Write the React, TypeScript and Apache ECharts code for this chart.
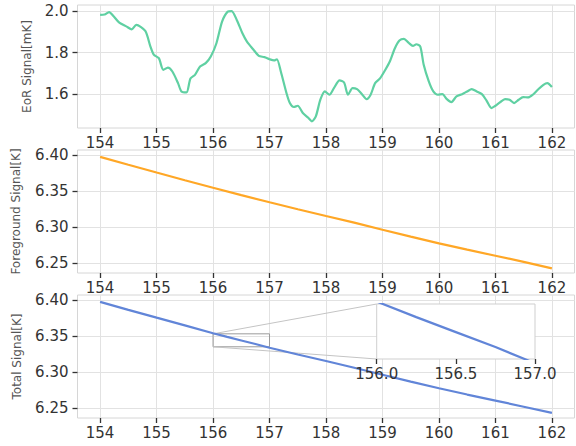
import React, { useEffect, useRef } from "react";
import * as echarts from "echarts";

// ---- data ----
const freqTicks = [154, 155, 156, 157, 158, 159, 160, 161, 162];
const eorTicks = [1.6, 1.8, 2.0];
const kTicks = [6.25, 6.3, 6.35, 6.4];
const insetTicks = [156, 156.5, 157];

const eorFreq = [
  154.0, 154.08, 154.16, 154.24, 154.34, 154.47, 154.56, 154.64, 154.8, 154.89, 154.95,
  155.04, 155.12, 155.2, 155.28, 155.38, 155.44, 155.53, 155.6, 155.68, 155.77, 155.87,
  155.96, 156.06, 156.16, 156.26, 156.33, 156.42, 156.52, 156.6, 156.71, 156.81, 156.91,
  157.0, 157.08, 157.13, 157.2, 157.3, 157.36, 157.43, 157.5, 157.59, 157.69, 157.75,
  157.82, 157.9, 157.98, 158.06, 158.14, 158.24, 158.32, 158.39, 158.47, 158.55, 158.63,
  158.72, 158.79, 158.87, 158.96, 159.05, 159.13, 159.22, 159.3, 159.38, 159.46, 159.54,
  159.6, 159.67, 159.73, 159.82, 159.9, 159.98, 160.06, 160.14, 160.22, 160.31, 160.41,
  160.5, 160.58, 160.67, 160.76, 160.84, 160.93, 161.0, 161.08, 161.17, 161.25, 161.33,
  161.41, 161.49, 161.58, 161.66, 161.75, 161.85, 161.92, 162.0,
];
const eorValues = [
  1.981, 1.983, 1.995, 1.975, 1.944, 1.925, 1.912, 1.933, 1.904, 1.83, 1.79,
  1.773, 1.717, 1.728, 1.709, 1.653, 1.613, 1.608, 1.675, 1.693, 1.733, 1.749,
  1.781, 1.845, 1.949, 1.997, 2.0, 1.957, 1.893, 1.853, 1.816, 1.784, 1.778,
  1.768, 1.762, 1.768, 1.709, 1.605, 1.557, 1.538, 1.544, 1.509, 1.485, 1.469,
  1.493, 1.573, 1.613, 1.597, 1.629, 1.666, 1.656, 1.597, 1.629, 1.624, 1.602,
  1.576, 1.597, 1.653, 1.677, 1.717, 1.757, 1.821, 1.858, 1.866, 1.848, 1.832,
  1.84, 1.829, 1.741, 1.661, 1.613, 1.597, 1.6, 1.576, 1.562, 1.589, 1.6,
  1.613, 1.624, 1.613, 1.6, 1.57, 1.533, 1.544, 1.56, 1.576, 1.573, 1.557,
  1.573, 1.586, 1.584, 1.597, 1.621, 1.645, 1.653, 1.634,
];

const fgFreq = [154, 154.5, 155, 155.5, 156, 156.5, 157, 157.5, 158, 158.5, 159, 159.5, 160, 160.5, 161, 161.5, 162];
const fgValues = [
  6.3975, 6.3865, 6.3757, 6.365, 6.3545, 6.3443, 6.3343, 6.3247, 6.3153, 6.306, 6.2962,
  6.2865, 6.2772, 6.2685, 6.26, 6.2515, 6.2425,
];

const totFreq = [154, 154.5, 155, 155.5, 156, 156.25, 156.5, 156.75, 157, 157.5, 158, 158.5, 159, 159.5, 160, 160.5, 161, 161.5, 162];
const totValues = [
  6.3975, 6.3863, 6.3755, 6.3648, 6.3538, 6.3487, 6.3438, 6.3389, 6.3336, 6.3243, 6.3153,
  6.3058, 6.2962, 6.2866, 6.2773, 6.2686, 6.2602, 6.2517, 6.2432,
];

const insetX: [number, number] = [156, 157];
const insetY: [number, number] = [6.335, 6.353];

const FONT = "DejaVu Sans";
const GRID_LEFT = 77.5;
const GRID_W = 497;

function zip(xs: number[], ys: number[]) {
  return xs.map((x, i) => [x, ys[i]]);
}

export default function App() {
  const ref = useRef<HTMLDivElement>(null);
  useEffect(() => {
    if (!ref.current) return;
    const chart = echarts.init(ref.current, undefined, { renderer: "svg" });

    const mkX = (gridIndex: number) => ({
      type: "value",
      gridIndex,
      min: 153.6,
      max: 162.4,
      axisLine: { show: false },
      axisTick: { show: true, length: 5, lineStyle: { color: "#333", width: 1.3 }, customValues: freqTicks },
      axisLabel: { customValues: freqTicks, fontFamily: FONT, fontSize: 15, color: "#333", margin: 7 },
      splitLine: { show: true, lineStyle: { color: "#e2e2e2", width: 1 } },
    });
    const mkY = (gridIndex: number, min: number, max: number, ticks: number[], name: string, gap: number, digits: number) => ({
      type: "value",
      gridIndex,
      min,
      max,
      name,
      nameLocation: "middle",
      nameGap: gap,
      nameTextStyle: { fontFamily: FONT, fontSize: 12, color: "#555" },
      axisLine: { show: false },
      axisTick: { show: true, length: 5, lineStyle: { color: "#333", width: 1.3 }, customValues: ticks },
      axisLabel: {
        customValues: ticks,
        fontFamily: FONT,
        fontSize: 15,
        color: "#333",
        margin: 9,
        formatter: (v: number) => v.toFixed(digits),
      },
      splitLine: { show: true, lineStyle: { color: "#e2e2e2", width: 1 } },
    });

    const option: any = {
      animation: false,
      backgroundColor: "#fff",
      grid: [
        { left: GRID_LEFT, top: 5, width: GRID_W, height: 123, show: true, borderColor: "#d6d6d6", borderWidth: 1 },
        { left: GRID_LEFT, top: 150, width: GRID_W, height: 123, show: true, borderColor: "#d6d6d6", borderWidth: 1 },
        { left: GRID_LEFT, top: 295, width: GRID_W, height: 123, show: true, borderColor: "#d6d6d6", borderWidth: 1 },
        { left: 376.7, top: 304, width: 158.3, height: 55, show: true, backgroundColor: "#fff", borderColor: "#cfcfcf", borderWidth: 1, z: 3 },
      ],
      xAxis: [
        mkX(0),
        mkX(1),
        mkX(2),
        {
          type: "value",
          gridIndex: 3,
          min: insetX[0],
          max: insetX[1],
          z: 4,
          axisLine: { show: false },
          axisTick: { show: true, length: 5, lineStyle: { color: "#333", width: 1.3 }, customValues: insetTicks },
          axisLabel: { customValues: insetTicks, fontFamily: FONT, fontSize: 15, color: "#333", margin: 7, formatter: (v: number) => v.toFixed(1) },
          splitLine: { show: false },
        },
      ],
      yAxis: [
        mkY(0, 1.437, 2.029, eorTicks, "EoR Signal[mK]", 44.5, 1),
        mkY(1, 6.236, 6.407, kTicks, "Foreground Signal[K]", 55.5, 2),
        mkY(2, 6.236, 6.407, kTicks, "Total Signal[K]", 54.5, 2),
        {
          type: "value",
          gridIndex: 3,
          min: insetY[0],
          max: insetY[1],
          show: false,
          z: 4,
          splitLine: { show: false },
        },
      ],
      series: [
        {
          type: "line",
          xAxisIndex: 0,
          yAxisIndex: 0,
          data: zip(eorFreq, eorValues),
          showSymbol: false,
          smooth: 0.25,
          lineStyle: { color: "#5fd0a2", width: 2.2 },
        },
        {
          type: "line",
          xAxisIndex: 1,
          yAxisIndex: 1,
          data: zip(fgFreq, fgValues),
          showSymbol: false,
          lineStyle: { color: "#ffa726", width: 2.2 },
        },
        {
          type: "line",
          xAxisIndex: 2,
          yAxisIndex: 2,
          data: zip(totFreq, totValues),
          showSymbol: false,
          lineStyle: { color: "#6185d8", width: 2.2 },
          markArea: {
            silent: true,
            itemStyle: { color: "rgba(0,0,0,0)", borderColor: "#9a9a9a", borderWidth: 1 },
            data: [[{ xAxis: insetX[0], yAxis: insetY[1] }, { xAxis: insetX[1], yAxis: insetY[0] }]],
          },
        },
        {
          type: "line",
          xAxisIndex: 3,
          yAxisIndex: 3,
          z: 5,
          clip: true,
          data: zip(totFreq, totValues),
          showSymbol: false,
          lineStyle: { color: "#6185d8", width: 2.2 },
        },
      ],
    };
    chart.setOption(option);

    const a1 = chart.convertToPixel({ gridIndex: 2 }, [insetX[0], insetY[1]]) as number[];
    const a2 = chart.convertToPixel({ gridIndex: 2 }, [insetX[0], insetY[0]]) as number[];
    const b1 = chart.convertToPixel({ gridIndex: 3 }, [insetX[0], insetY[1]]) as number[];
    const b2 = chart.convertToPixel({ gridIndex: 3 }, [insetX[0], insetY[0]]) as number[];
    chart.setOption({
      graphic: [
        { type: "line", z: 2, shape: { x1: a1[0], y1: a1[1], x2: b1[0], y2: b1[1] }, style: { stroke: "#c4c4c4", lineWidth: 1 } },
        { type: "line", z: 2, shape: { x1: a2[0], y1: a2[1], x2: b2[0], y2: b2[1] }, style: { stroke: "#c4c4c4", lineWidth: 1 } },
      ],
    });

    return () => chart.dispose();
  }, []);
  return (
    <div
      ref={ref}
      style={{ position: "fixed", left: 0, top: 0, width: 576, height: 446, background: "#fff" }}
    />
  );
}
